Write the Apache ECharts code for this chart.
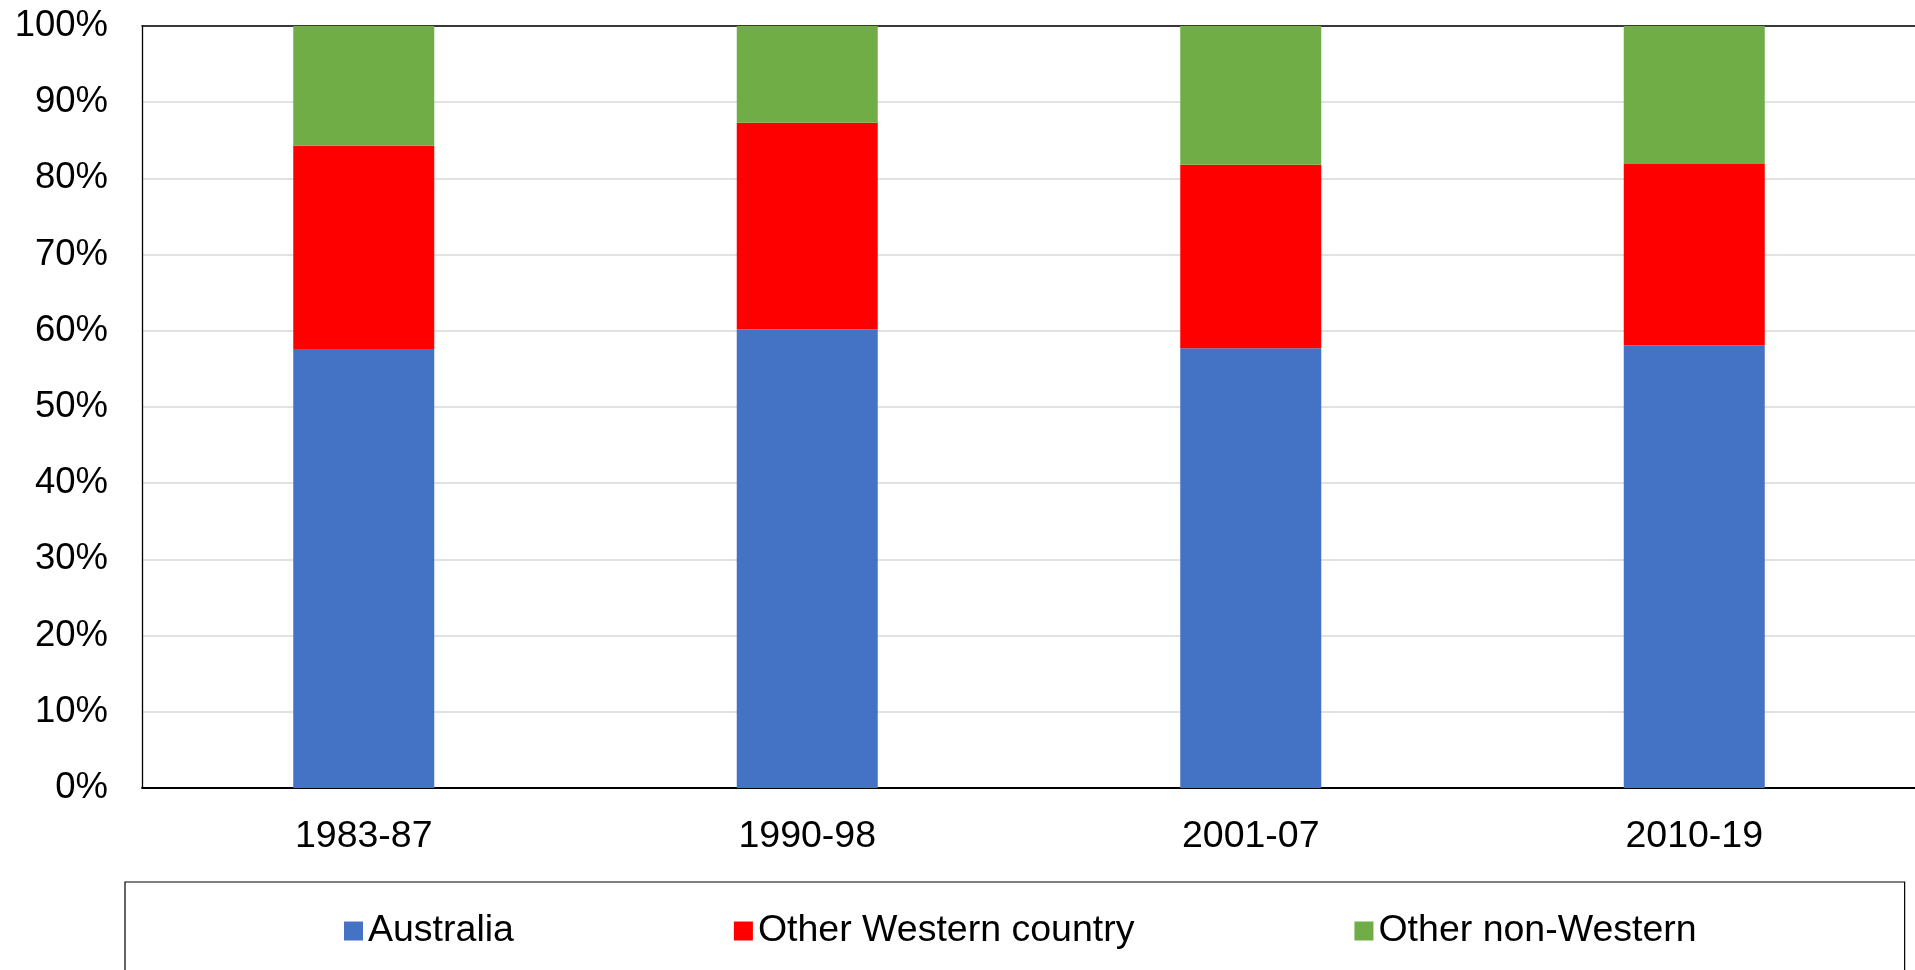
<!DOCTYPE html>
<html>
<head>
<meta charset="utf-8">
<style>
html,body{margin:0;padding:0;background:#fff;}
#chart{width:1915px;height:970px;}
</style>
<script src="https://cdn.jsdelivr.net/npm/echarts@6/dist/echarts.min.js"></script>
</head>
<body>
<div id="chart"></div>
<script>
const categories = ['1983-87', '1990-98', '2001-07', '2010-19'];
const australia = [57.6, 60.2, 57.7, 58.1];
const otherWestern = [26.7, 27.1, 24.1, 23.8];
const otherNonWestern = [15.7, 12.7, 18.2, 18.1];
const yTicks = [0, 10, 20, 30, 40, 50, 60, 70, 80, 90, 100];

const FONT = '"Liberation Sans", Arial, sans-serif';
const chart = echarts.init(document.getElementById('chart'));
const mk = (name, data, color) => ({
  name, type: 'bar', stack: 'total', data, barWidth: 141,
  itemStyle: { color }, emphasis: { disabled: true }
});
chart.setOption({
  animation: false,
  backgroundColor: '#fff',
  grid: {
    left: 142, top: 26, width: 1774, bottom: 182,
    outerBoundsMode: 'none',
    show: false
  },
  xAxis: [{
    type: 'category', data: categories,
    axisLine: { lineStyle: { color: '#000', width: 1.8 } },
    axisTick: { show: false },
    axisLabel: { color: '#000', fontSize: 37.5, fontFamily: FONT, margin: 30 }
  }, {
    type: 'category', data: categories, position: 'top',
    axisLine: { show: true, lineStyle: { color: '#000', width: 1.5 } },
    axisTick: { show: false }, axisLabel: { show: false }, splitLine: { show: false }
  }],
  yAxis: {
    type: 'value', min: yTicks[0], max: yTicks[yTicks.length - 1], interval: 10,
    axisLine: { show: true, lineStyle: { color: '#000', width: 1.3 } },
    axisTick: { show: false },
    splitLine: { lineStyle: { color: '#d9d9d9', width: 1.5 } },
    axisLabel: { color: '#000', fontSize: 36.5, fontFamily: FONT, margin: 34, padding: [8, 0, 0, 0], formatter: v => v + '%' }
  },
  legend: {
    left: 125, top: 882,
    padding: [30, 208, 60, 219],
    borderColor: '#000', borderWidth: 1.2,
    itemWidth: 19, itemHeight: 19, itemGap: 220,
    icon: 'rect',
    textStyle: { color: '#000', fontSize: 37.5, fontFamily: FONT },
    data: ['Australia', 'Other Western country', 'Other non-Western']
  },
  series: [
    mk('Australia', australia, '#4472C4'),
    mk('Other Western country', otherWestern, '#FF0000'),
    mk('Other non-Western', otherNonWestern, '#70AD47')
  ]
});
</script>
</body>
</html>
